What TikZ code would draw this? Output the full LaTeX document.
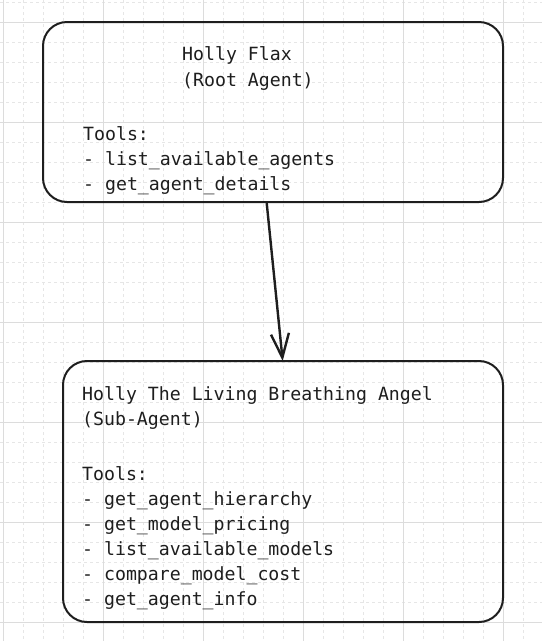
\documentclass[tikz,border=0pt]{standalone}
\usepackage{fontspec}
\setmonofont{DejaVu Sans Mono}
\usetikzlibrary{arrows.meta}
\definecolor{ink}{HTML}{1E1E1E}
\definecolor{gridmaj}{HTML}{DCDCDC}
\definecolor{gridmin}{HTML}{E6E6E6}
\begin{document}
\begin{tikzpicture}[x=1pt,y=-1pt,
  agentbox/.style={draw=ink, line width=2pt, rounded corners=24pt, inner sep=0pt},
  txt/.style={anchor=base west, inner sep=0pt, font=\ttfamily\fontsize{18.2}{25}\selectfont, text=ink},
  link/.style={draw=ink, line width=2.4pt, line cap=round, -{Straight Barb[length=24pt,width=18pt,line width=2.4pt]}},
  minorline/.style={gridmin, line width=0.8pt, dash pattern=on 3pt off 3pt},
  majorline/.style={gridmaj, line width=0.9pt}]
\useasboundingbox (0,0) rectangle (542,641);
\fill[white] (0,0) rectangle (542,641);
\foreach \x in {13,33,...,543} \draw[minorline] (\x-10,0) -- (\x-10,641);
\foreach \y in {2.5,22.5,...,641} \draw[minorline] (0,\y) -- (542,\y);
\foreach \x in {3,103,...,503} \draw[majorline] (\x,0) -- (\x,641);
\foreach \y in {22.5,122.5,...,641} \draw[majorline] (0,\y) -- (542,\y);

\node[agentbox, minimum width=460pt, minimum height=180pt] (root) at (273,112) {};
\node[agentbox, minimum width=440pt, minimum height=261pt] (sub) at (283,491.5) {};

\node[txt] (r1) at (182,60) {Holly Flax};
\node[txt] (r2) at (182,86) {(Root Agent)};
\node[txt] (r3) at (83,140) {Tools:};
\node[txt] (r4) at (83,165) {- list\_available\_agents};
\node[txt] (r5) at (83,190) {- get\_agent\_details};

\node[txt] (s1) at (82,400) {Holly The Living Breathing Angel};
\node[txt] (s2) at (82,425) {(Sub-Agent)};
\node[txt] (s3) at (82,480) {Tools:};
\node[txt] (s4) at (82,505) {- get\_agent\_hierarchy};
\node[txt] (s5) at (82,530) {- get\_model\_pricing};
\node[txt] (s6) at (82,555) {- list\_available\_models};
\node[txt] (s7) at (82,580) {- compare\_model\_cost};
\node[txt] (s8) at (82,605) {- get\_agent\_info};

\draw[link] ([xshift=-6.3pt]root.south) -- ([xshift=-0.3pt,yshift=-1pt]sub.north);
\end{tikzpicture}
\end{document}
